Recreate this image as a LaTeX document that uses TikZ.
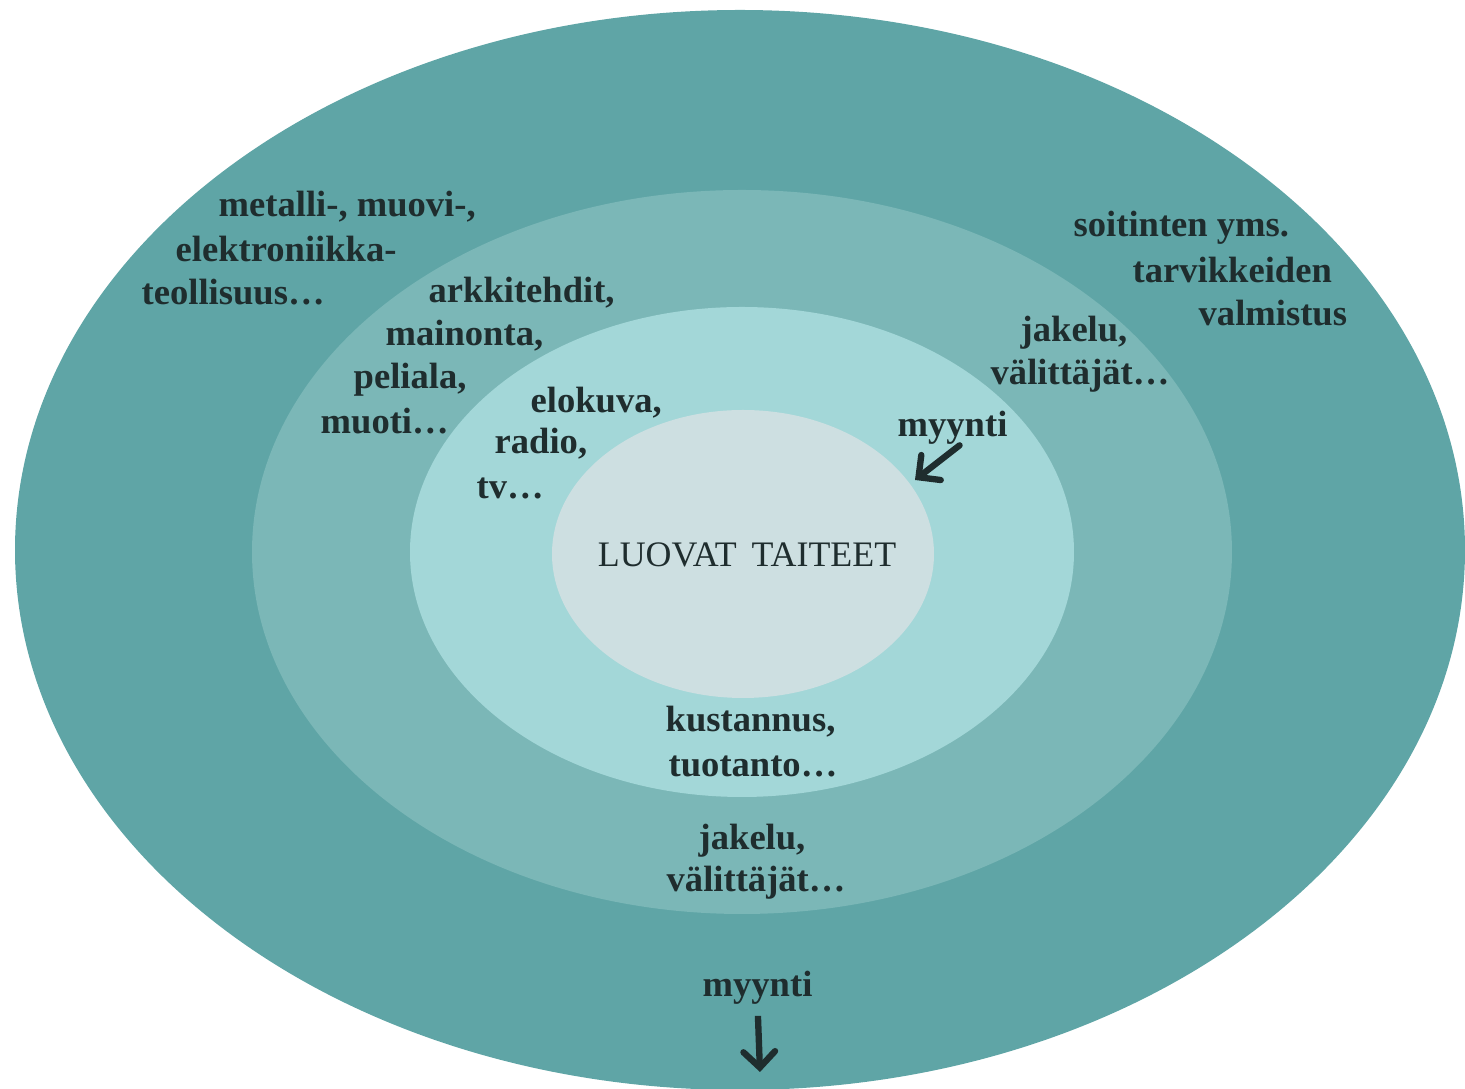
\documentclass[tikz,border=0pt]{standalone}
\usepackage{fontspec}
\setmainfont{Liberation Serif}
\usepackage{tikz}
\usetikzlibrary{arrows.meta}

\definecolor{ringA}{HTML}{5FA5A6}
\definecolor{ringB}{HTML}{7BB7B7}
\definecolor{ringC}{HTML}{A3D7D8}
\definecolor{ringD}{HTML}{CDDFE1}
\definecolor{ink}{HTML}{1F2D2E}

\begin{document}
\begin{tikzpicture}[x=0.01cm,y=-0.01cm]
        \tikzset{lbl/.style = {anchor=west, inner sep=0pt, text=ink,
                font=\fontsize{10.4}{12.2}\selectfont\bfseries}}
        \tikzset{sell/.style = {-{Straight Barb[length=4.5pt,width=9pt,line cap=round]}, draw=ink, line width=1.8pt}}
        \useasboundingbox (0,0) rectangle (1465,1089);
        \clip (0,0) rectangle (1465,1089);
        % rings
        \fill[ringA] (740,550) ellipse [x radius=725, y radius=540];
        \fill[ringB] (742,552) ellipse [x radius=490, y radius=362];
        \fill[ringC] (742,552) ellipse [x radius=332, y radius=245];
        \fill[ringD] (743,554) ellipse [x radius=191, y radius=144];

        % core
        \node[inner sep=0pt, text=ink, font=\fontsize{10.2}{12}\selectfont] (core) at (747,555) {LUOVAT\, TAITEET};

        % outer ring
        \node[lbl] (metal) at (218,207) {metalli-, muovi-,};
        \node[lbl] (elektro) at (175,249) {elektroniikka-};
        \node[lbl] (teoll) at (141,292) {teollisuus\ldots};
        \node[lbl] (soitin) at (1073,228) {soitinten yms.};
        \node[lbl] (tarvike) at (1132,270) {tarvikkeiden};
        \node[lbl] (valmist) at (1198,313) {valmistus};
        \node[lbl] (myyntiB) at (702,988) {myynti};

        % second ring
        \node[lbl] (arkki) at (428,293) {arkkitehdit,};
        \node[lbl] (mainos) at (385,336) {mainonta,};
        \node[lbl] (peli) at (353,380) {peliala,};
        \node[lbl] (muoti) at (320,421) {muoti\ldots};
        \node[lbl] (jakeluA) at (1020,333) {jakelu,};
        \node[lbl] (valitA) at (990,376) {välittäjät\ldots};
        \node[lbl] (jakeluB) at (698,841) {jakelu,};
        \node[lbl] (valitB) at (666,883) {välittäjät\ldots};

        % third ring
        \node[lbl] (elokuva) at (530,403) {elokuva,};
        \node[lbl] (radio) at (494,444) {radio,};
        \node[lbl] (tv) at (476,488) {tv\ldots};
        \node[lbl] (kustan) at (665,722) {kustannus,};
        \node[lbl] (tuotanto) at (668,766) {tuotanto\ldots};
        \node[lbl] (myyntiA) at (897,428) {myynti};

        % arrows
        \coordinate (inA) at (915,480);
        \coordinate (outB) at (760,1072);
        \draw[sell, line cap=round] ([xshift=2pt]myyntiA.south) -- (inA);
        \draw[sell, shorten <=3pt] (myyntiB.south) -- (outB);
\end{tikzpicture}
\end{document}
